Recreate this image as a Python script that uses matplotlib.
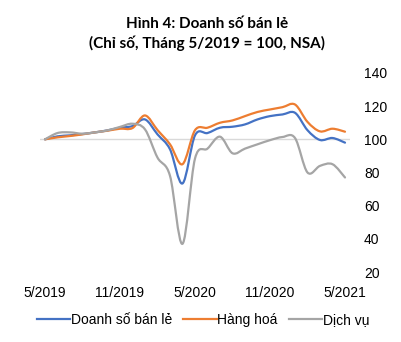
import numpy as np
import matplotlib
matplotlib.use("Agg")
import matplotlib.pyplot as plt
from matplotlib.path import Path
from matplotlib.patches import PathPatch
from matplotlib.lines import Line2D

plt.rcParams['font.family'] = ['Liberation Sans', 'DejaVu Sans']

# Dữ liệu theo tháng, 5/2019 -> 5/2021 (chỉ số, 5/2019 = 100)
months = list(range(25))
tick_pos = [0, 6, 12, 18, 24]
tick_labels = ["5/2019", "11/2019", "5/2020", "11/2020", "5/2021"]

ban_le = [100, 101.8, 102.4, 103.2, 104.2, 105.4, 107, 108, 112, 103, 94, 73.4,
          102.4, 103.8, 107, 107.6, 109, 112, 114, 115, 116, 105.5, 99.6, 100.8, 98]
hang_hoa = [100, 101.2, 102, 103, 104.2, 105.2, 106.4, 106.8, 114.4, 105.6, 97, 85,
            105.5, 107, 110, 111.4, 114, 116.5, 118, 119.4, 121, 110.5, 104.8, 106.4, 104.6]
dich_vu = [100, 103.8, 104.2, 103.4, 104.2, 105.4, 107.5, 109.4, 106, 89, 78, 37,
           88.4, 94.4, 101.6, 91.6, 94.4, 97, 99.5, 101.4, 100.8, 80, 84, 85, 77]

series = [
    ("Doanh số bán lẻ", ban_le, "#4472C4"),
    ("Hàng hoá", hang_hoa, "#ED7D31"),
    ("Dịch vụ", dich_vu, "#A5A5A5"),
]


def smooth_path(x, y, t=1/6):
    """Đường cong trơn kiểu Excel (Catmull-Rom -> Bezier)."""
    x = np.asarray(x, float)
    y = np.asarray(y, float)
    px = np.concatenate([[x[0]], x, [x[-1]]])
    py = np.concatenate([[y[0]], y, [y[-1]]])
    verts = [(x[0], y[0])]
    codes = [Path.MOVETO]
    for i in range(len(x) - 1):
        c1 = (x[i] + (px[i + 2] - px[i]) * t, y[i] + (py[i + 2] - py[i]) * t)
        c2 = (x[i + 1] - (px[i + 3] - px[i + 1]) * t, y[i + 1] - (py[i + 3] - py[i + 1]) * t)
        verts += [c1, c2, (x[i + 1], y[i + 1])]
        codes += [Path.CURVE4] * 3
    return Path(verts, codes)


fig = plt.figure(figsize=(4.02, 3.42), dpi=100)
ax = fig.add_axes([40 / 402, 70 / 342, 310 / 402, 199 / 342])

for name, vals, color in series:
    patch = PathPatch(smooth_path(months, vals), facecolor="none", edgecolor=color,
                      linewidth=1.6, capstyle="round", joinstyle="round", zorder=3)
    ax.add_patch(patch)

ax.axhline(100, color="#D9D9D9", linewidth=1.0, zorder=1)

ax.set_xlim(-0.4, 24.4)
ax.set_ylim(20, 140)
ax.set_yticks([20, 40, 60, 80, 100, 120, 140])
ax.yaxis.tick_right()
ax.set_xticks(tick_pos)
ax.set_xticklabels(tick_labels)
ax.tick_params(axis="both", length=0, labelsize=10, colors="#000000")
ax.tick_params(axis="y", pad=10)
ax.tick_params(axis="x", pad=10)
for s in ax.spines.values():
    s.set_visible(False)

fig.text(0.515, 1 - 34 / 342, "Hình 4: Doanh số bán lẻ\n(Chỉ số, Tháng 5/2019 = 100, NSA)",
         ha="center", va="center", fontsize=11, fontweight="bold", family="Lato",
         linespacing=1.3)

handles = [Line2D([], [], color=c, linewidth=1.6) for _, _, c in series]
fig.legend(handles, [n for n, _, _ in series], loc="center", bbox_to_anchor=(0.505, 1 - 320 / 342),
           ncol=3, frameon=False, fontsize=10, handlelength=2.4, handletextpad=0.05,
           columnspacing=0.8)

fig.savefig("out.png", dpi=100, facecolor="white")
